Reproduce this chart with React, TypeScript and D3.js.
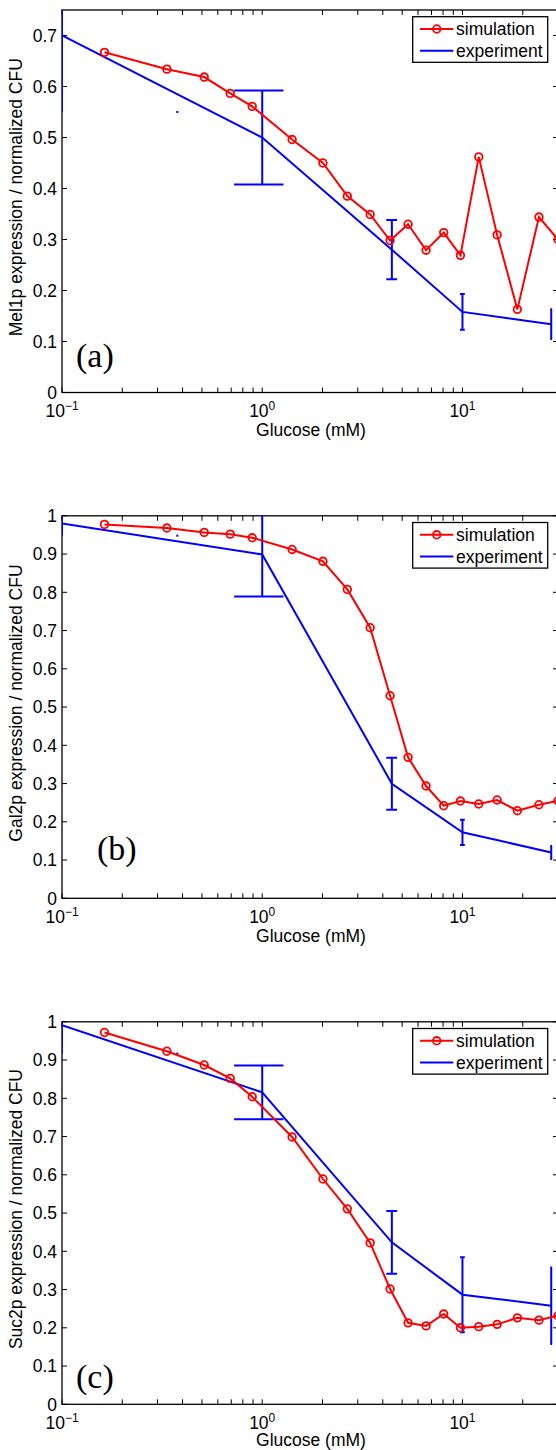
import React from "react";
import * as d3 from "d3";

// ---------- data ----------
const simGlucose = [0.163, 0.334, 0.513, 0.692, 0.891, 1.41, 2.01, 2.66, 3.46, 4.35, 5.35, 6.58, 8.06, 9.77, 12.06, 14.9, 18.8, 24.1, 30];
const simMel1 = [0.667, 0.634, 0.6185, 0.5865, 0.561, 0.496, 0.45, 0.385, 0.349, 0.298, 0.33, 0.279, 0.3135, 0.269, 0.462, 0.309, 0.163, 0.344, 0.3];
const simGal2 = [0.9775, 0.968, 0.9566, 0.952, 0.9425, 0.912, 0.881, 0.8076, 0.7073, 0.5295, 0.3685, 0.2935, 0.242, 0.2543, 0.2465, 0.257, 0.229, 0.2446, 0.255];
const simSuc2 = [0.972, 0.923, 0.887, 0.852, 0.804, 0.699, 0.589, 0.511, 0.422, 0.3015, 0.213, 0.205, 0.236, 0.2, 0.203, 0.209, 0.226, 0.22, 0.232];

const expGlucose = [0.1, 1, 4.44, 10, 27.75];
const expMel1 = [0.7, 0.5, 0.28, 0.158, 0.134];
const errMel1 = [0.15, 0.092, 0.058, 0.035, 0.029];
const expGal2 = [0.98, 0.899, 0.2996, 0.1725, 0.12];
const errGal2 = [0.032, 0.11, 0.068, 0.033, 0.017];
const expSuc2 = [0.991, 0.8155, 0.4234, 0.2866, 0.2578];
const errSuc2 = [0.074, 0.0705, 0.082, 0.098, 0.1];

const xDomain = [0.1, 30];
const xMajorTicks = [0.1, 1, 10];
const xMajorExp = ["\u22121", "0", "1"];
const yTicksA = [0, 0.1, 0.2, 0.3, 0.4, 0.5, 0.6, 0.7];
const yTicksBC = [0, 0.1, 0.2, 0.3, 0.4, 0.5, 0.6, 0.7, 0.8, 0.9, 1];
const legendLabels = ["simulation", "experiment"];
const xLabel = "Glucose (mM)";

// ---------- layout ----------
const W = 556;
const H = 1450;
const LEFT = 62;
const RIGHT = 558;
const PH = 382.5;
const FONT = "'Liberation Sans', Arial, Helvetica, sans-serif";
const RED = "#ff0000";
const BLUE = "#0000ff";

const panels = [
  { id: "a", top: 10, yMax: 0.75, yTicks: yTicksA, sim: simMel1, exp: expMel1, err: errMel1, ylabel: "Mel1p expression / normalized CFU", tag: "(a)", tagX: 76, tagDy: -26, xlabDy: 43.5 },
  { id: "b", top: 515.8, yMax: 1, yTicks: yTicksBC, sim: simGal2, exp: expGal2, err: errGal2, ylabel: "Gal2p expression / normalized CFU", tag: "(b)", tagX: 97, tagDy: -38, xlabDy: 43.5 },
  { id: "c", top: 1021.8, yMax: 1, yTicks: yTicksBC, sim: simSuc2, exp: expSuc2, err: errSuc2, ylabel: "Suc2p expression / normalized CFU", tag: "(c)", tagX: 76, tagDy: -16, xlabDy: 41.5 },
];

function Panel({ p }: { p: any }) {
  const x = d3.scaleLog().domain(xDomain).range([LEFT, RIGHT]);
  const y = d3.scaleLinear().domain([0, p.yMax]).range([p.top + PH, p.top]);
  const bottom = p.top + PH;
  const clipId = "clip-" + p.id;
  const line = d3.line<number>().x((_, i) => x(simGlucose[i])).y((d) => y(d));
  const eline = d3.line<number>().x((_, i) => x(expGlucose[i])).y((d) => y(d));
  const tee = (d3.max(expGlucose)! - d3.min(expGlucose)!) / 100;

  const minor: number[] = [];
  [0.1, 1, 10].forEach((dec) => {
    for (let k = 2; k <= 9; k++) {
      const v = dec * k;
      if (v <= xDomain[1]) minor.push(v);
    }
  });
  const TL = 5;

  return (
    <g>
      <defs>
        <clipPath id={clipId}>
          <rect x={LEFT} y={p.top} width={RIGHT - LEFT} height={PH} />
        </clipPath>
      </defs>
      {/* axes box */}
      <rect x={LEFT} y={p.top} width={RIGHT - LEFT} height={PH} fill="white" stroke="black" strokeWidth={1.3} />
      {/* x ticks */}
      {[...xMajorTicks, ...minor].map((v, i) => (
        <g key={"xt" + i}>
          <line x1={x(v)} x2={x(v)} y1={bottom} y2={bottom - TL} stroke="black" strokeWidth={1} />
          <line x1={x(v)} x2={x(v)} y1={p.top} y2={p.top + TL} stroke="black" strokeWidth={1} />
        </g>
      ))}
      {/* y ticks */}
      {p.yTicks.map((v: number, i: number) => (
        <g key={"yt" + i}>
          <line x1={LEFT} x2={LEFT + TL} y1={y(v)} y2={y(v)} stroke="black" strokeWidth={1} />
          <line x1={RIGHT} x2={RIGHT - TL} y1={y(v)} y2={y(v)} stroke="black" strokeWidth={1} />
          <text x={LEFT - 5} y={y(v)} dy="0.36em" textAnchor="end" fontFamily={FONT} fontSize={17.5} fill="black">
            {String(+v.toFixed(1))}
          </text>
        </g>
      ))}
      {/* x tick labels */}
      {xMajorTicks.map((v, i) => (
        <text key={"xl" + i} x={x(v)} y={bottom + 24.5} textAnchor="middle" fontFamily={FONT} fontSize={17.5} fill="black">
          10
          <tspan fontSize={12} dy={-7}>{xMajorExp[i]}</tspan>
        </text>
      ))}
      {/* x label */}
      <text x={(LEFT + RIGHT) / 2 + 1} y={bottom + p.xlabDy} textAnchor="middle" fontFamily={FONT} fontSize={17.5} fill="black">
        {xLabel}
      </text>
      {/* y label */}
      <text
        transform={`translate(${21.5},${p.top + PH / 2 - 4}) rotate(-90)`}
        textAnchor="middle"
        fontFamily={FONT}
        fontSize={17.5}
        fill="black"
      >
        {p.ylabel}
      </text>
      {/* data */}
      <g clipPath={`url(#${clipId})`}>
        <path d={eline(p.exp)!} fill="none" stroke={BLUE} strokeWidth={2} />
        {p.exp.map((v: number, i: number) => {
          const xv = expGlucose[i];
          const lo = v - p.err[i];
          const hi = v + p.err[i];
          const xl = xv - tee;
          const xr = xv + tee;
          return (
            <g key={"eb" + i}>
              <line x1={x(xv)} x2={x(xv)} y1={y(lo)} y2={y(hi)} stroke={BLUE} strokeWidth={2} />
              {xl > 0 ? (
                <>
                  <line x1={x(xl)} x2={x(xr)} y1={y(lo)} y2={y(lo)} stroke={BLUE} strokeWidth={2} />
                  <line x1={x(xl)} x2={x(xr)} y1={y(hi)} y2={y(hi)} stroke={BLUE} strokeWidth={2} />
                </>
              ) : (
                <>
                  <rect x={x(xr) - 1} y={y(lo) - 1} width={2} height={2} fill={BLUE} />
                  <rect x={x(xr) - 1} y={y(hi) - 1} width={2} height={2} fill={BLUE} />
                </>
              )}
            </g>
          );
        })}
        <path d={line(p.sim)!} fill="none" stroke={RED} strokeWidth={2} />
        {p.sim.map((v: number, i: number) => (
          <circle key={"m" + i} cx={x(simGlucose[i])} cy={y(v)} r={3.8} fill="none" stroke={RED} strokeWidth={1.8} />
        ))}
      </g>
      {/* panel tag */}
      <text x={p.tagX} y={bottom + p.tagDy} fontFamily="'Liberation Serif', 'Times New Roman', serif" fontSize={34} fill="black">
        {p.tag}
      </text>
      {/* legend */}
      <g>
        <rect x={412.7} y={p.top + 6.7} width={135} height={45.6} fill="white" stroke="black" strokeWidth={1.3} />
        <line x1={420} x2={453.3} y1={p.top + 19} y2={p.top + 19} stroke={RED} strokeWidth={2} />
        <circle cx={436.7} cy={p.top + 19} r={3.8} fill="none" stroke={RED} strokeWidth={1.8} />
        <text x={456} y={p.top + 19} dy="0.36em" fontFamily={FONT} fontSize={17.5} fill="black">{legendLabels[0]}</text>
        <line x1={420} x2={453.3} y1={p.top + 40.7} y2={p.top + 40.7} stroke={BLUE} strokeWidth={2} />
        <text x={456} y={p.top + 40.7} dy="0.36em" fontFamily={FONT} fontSize={17.5} fill="black">{legendLabels[1]}</text>
      </g>
    </g>
  );
}

export default function App() {
  return (
    <svg
      width={W}
      height={H}
      viewBox={`0 0 ${W} ${H}`}
      style={{ position: "absolute", left: 0, top: 0, background: "white" }}
    >
      <rect x={0} y={0} width={W} height={H} fill="white" />
      {panels.map((p) => (
        <Panel key={p.id} p={p} />
      ))}
    </svg>
  );
}
